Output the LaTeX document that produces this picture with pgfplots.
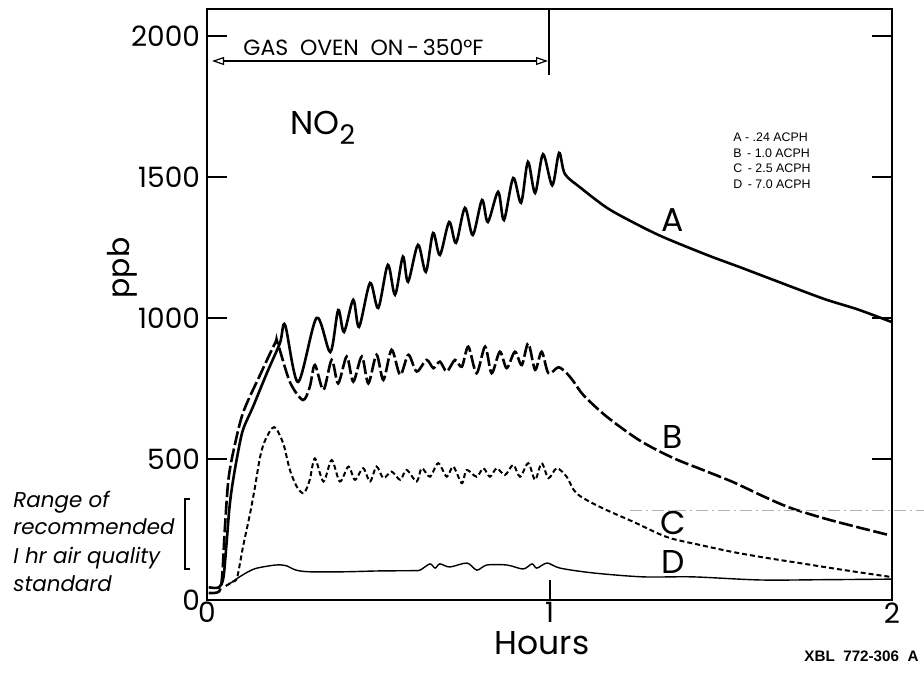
\documentclass[border=0pt]{standalone}
\usepackage{fontspec}
\setmainfont{Poppins}
\newfontfamily\helv{Liberation Sans}
\usepackage{pgfplots}
\pgfplotsset{compat=1.18}
\usetikzlibrary{arrows.meta}

\pgfplotstableread{
x y
0.005 45
0.035 45
0.048 80
0.057 200
0.065 320
0.073 400
0.088 507
0.105 603
0.134 684
0.175 805
0.213 911
0.228 975
0.266 773
0.32 1000
0.36 879
0.383 1028
0.40 950
0.427 1064
0.444 968
0.476 1124
0.50 1035
0.528 1188
0.549 1082
0.572 1217
0.587 1128
0.616 1259
0.639 1163
0.66 1301
0.68 1223
0.707 1340
0.727 1266
0.753 1390
0.776 1294
0.803 1418
0.82 1340
0.85 1447
0.867 1347
0.894 1496
0.917 1408
0.937 1553
0.958 1443
0.981 1580
1.008 1470
1.028 1585
1.045 1510
1.09 1462
1.168 1390
1.25 1335
1.331 1287
1.46 1223
1.56 1178
1.653 1135
1.8 1068
1.9 1030
2.0 985
}\dataA

\pgfplotstableread{
x y
0.005 25
0.035 30
0.044 80
0.052 250
0.062 420
0.076 521
0.105 663
0.155 798
0.199 911
0.206 912
0.242 773
0.28 709
0.30 755
0.315 833
0.340 745
0.364 851
0.383 768
0.408 863
0.427 774
0.452 863
0.471 768
0.495 869
0.515 780
0.539 887
0.564 798
0.588 869
0.612 810
0.641 851
0.661 822
0.680 845
0.700 810
0.724 851
0.744 827
0.763 898
0.787 804
0.812 898
0.831 804
0.855 880
0.875 822
0.899 880
0.919 833
0.938 910
0.958 816
0.977 880
0.997 804
1.026 825
1.050 804
1.07 775
1.10 725
1.168 649
1.264 565
1.36 504
1.45 460
1.536 418
1.62 370
1.70 328
1.80 290
1.90 258
1.985 232
}\dataB

\pgfplotstableread{
x y
0.055 50
0.075 65
0.088 80
0.105 188
0.126 308
0.14 400
0.155 507
0.17 567
0.196 613
0.222 557
0.242 461
0.263 400
0.283 379
0.30 426
0.315 502
0.340 420
0.364 496
0.388 420
0.413 473
0.432 426
0.456 467
0.476 420
0.495 473
0.515 432
0.539 455
0.564 426
0.583 461
0.612 420
0.627 467
0.651 437
0.675 485
0.700 437
0.719 473
0.744 414
0.758 461
0.787 437
0.807 467
0.826 437
0.846 467
0.870 443
0.894 479
0.914 437
0.938 485
0.958 426
0.977 485
0.997 432
1.021 467
1.050 437
1.079 378
1.147 330
1.245 277
1.343 223
1.44 195
1.536 170
1.63 150
1.73 131
1.85 108
1.995 82
}\dataC

\pgfplotstableread{
x y
0.055 50
0.075 65
0.09 78
0.12 100
0.146 113
0.2 124
0.23 122
0.26 106
0.3 100
0.4 100
0.5 103
0.6 104
0.622 106
0.651 128
0.666 113
0.68 128
0.709 117
0.759 131
0.788 106
0.817 124
0.876 124
0.923 110
0.949 128
0.963 113
0.993 131
1.031 113
1.127 96
1.273 82
1.419 82
1.615 71
1.8 72
2.0 74
}\dataD

\begin{document}
\begin{tikzpicture}
\path[use as bounding box] (-103.5pt,-37.5pt) rectangle (358.5pt,300pt);
\begin{axis}[
  at={(0,0)}, anchor=south west,
  scale only axis, width=342.5pt, height=295.5pt,
  xmin=0, xmax=2, ymin=0, ymax=2095,
  xtick={0,1,2}, ytick={0,500,1000,1500,2000},
  xtick pos=bottom, ytick pos=both,
  tick align=inside, major tick length=10pt,
  tick style={line width=1pt, black},
  axis line style={line width=1pt},
  /pgf/number format/assume math mode=true,
  /pgf/number format/1000 sep={},
  ticklabel style={font=\fontsize{14}{16}\selectfont},
  xticklabel style={inner sep=1pt},
  clip=false,
]
\addplot[black, line width=1.3pt, smooth, tension=0.5] table[x=x,y=y] {\dataA};
\addplot[black, line width=1.3pt, smooth, tension=0.5, dash pattern=on 7pt off 1.8pt] table[x=x,y=y] {\dataB};
\addplot[black, line width=1pt, smooth, tension=0.5, dash pattern=on 2.5pt off 1.5pt] table[x=x,y=y] {\dataC};
\addplot[black, line width=0.7pt, smooth, tension=0.5] table[x=x,y=y] {\dataD};
\end{axis}

% oven marker
\node[font=\fontsize{11}{13}\selectfont] at (78.25pt,276.5pt) {GAS\ \ OVEN\ \ ON\,-\,350°F};
\draw[line width=0.6pt, {Triangle[open,length=6pt,width=4pt]}-{Triangle[open,length=6pt,width=4pt]}] (2.5pt,269.5pt) -- (170.5pt,269.5pt);
\draw[line width=0.9pt] (171pt,295.5pt) -- (171pt,262.5pt);

\node[anchor=west, inner sep=0pt, font=\fontsize{16.5}{18}\selectfont] at (41.5pt,236pt) {NO\raisebox{-5pt}{\fontsize{13.5}{15}\selectfont 2}};

% key
\begin{scope}[every node/.style={anchor=west, inner sep=0pt, font=\helv\fontsize{6.2}{7}\selectfont}]
\node at (263pt,231.5pt) {A - .24 ACPH};
\node at (263pt,223.5pt) {B \,- 1.0 ACPH};
\node at (263pt,216pt) {C \,- 2.5 ACPH};
\node at (263pt,208pt) {D \,- 7.0 ACPH};
\end{scope}

% curve labels
\begin{scope}[every node/.style={font=\fontsize{16.5}{18}\selectfont}]
\node at (233pt,190pt) {A};
\node at (233pt,81.5pt) {B};
\node at (233pt,38.5pt) {C};
\node at (233pt,19pt) {D};
\end{scope}

\node[rotate=90, font=\fontsize{15}{17}\selectfont] at (-42.5pt,166pt) {ppb};
\node[inner sep=0pt, font=\fontsize{16.5}{18}\selectfont] at (167.5pt,-21.5pt) {Hours};

% range of standard
\begin{scope}[every node/.style={anchor=base west, inner sep=0pt, font=\itshape\fontsize{10.7}{13}\selectfont}]
\node at (-97pt,46.5pt) {Range\ of};
\node at (-97pt,33pt) {recommended};
\node at (-97pt,18.5pt) {I hr air quality};
\node at (-97pt,4.5pt) {standard};
\end{scope}
\draw[line width=0.8pt] (-8.5pt,50.5pt) -- (-11pt,50.5pt) -- (-11pt,15.5pt) -- (-8.5pt,15.5pt);

\node[font=\helv\bfseries\fontsize{7.6}{9}\selectfont] at (327.25pt,-28pt) {XBL\ \ 772-306\ \ A};

\draw[gray!60, line width=0.4pt, dash pattern=on 6pt off 2pt on 1pt off 2pt] (211.5pt,45pt) -- (358.5pt,45pt);
\end{tikzpicture}
\end{document}
